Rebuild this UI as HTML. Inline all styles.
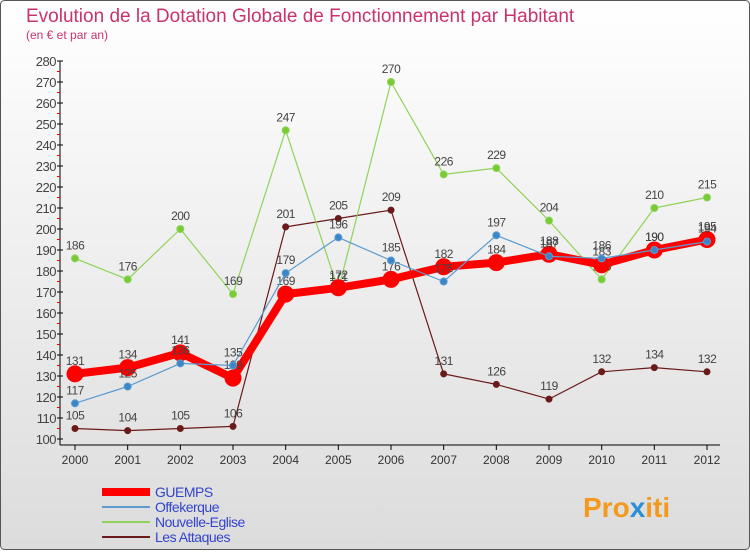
<!DOCTYPE html>
<html><head><meta charset="utf-8"><style>
body{margin:0;width:750px;height:550px;overflow:hidden;font-family:"Liberation Sans",sans-serif}
</style></head><body>
<svg id="c" width="750" height="550" xmlns="http://www.w3.org/2000/svg">
<defs><linearGradient id="bg" x1="0" y1="0" x2="0" y2="1"><stop offset="0" stop-color="#ffffff"/><stop offset="1" stop-color="#dcdcdc"/></linearGradient></defs>
<rect x="0.5" y="0.5" width="749" height="549" rx="4" fill="url(#bg)" stroke="#555"/>
<text x="26" y="22" font-size="19" fill="#c8336e">Evolution de la Dotation Globale de Fonctionnement par Habitant</text>
<text x="26" y="39" font-size="12" fill="#c8336e">(en € et par an)</text>
<g id="axes"></g><g id="series"></g><g id="legend"></g>
<text x="583" y="517" font-size="28" font-weight="bold" fill="#f39a1e">Pro<tspan fill="#2a8fd6">x</tspan>iti</text>
</svg>
<script>
const years=[2000,2001,2002,2003,2004,2005,2006,2007,2008,2009,2010,2011,2012];
const guemps=[131,134,141,129,169,172,176,182,184,188,183,190,195];
const offekerque=[117,125,136,135,179,196,185,175,197,187,186,190,194];
const nouvelle=[186,176,200,169,247,171,270,226,229,204,176,210,215];
const attaques=[105,104,105,106,201,205,209,131,126,119,132,134,132];
const yTicks=[100,110,120,130,140,150,160,170,180,190,200,210,220,230,240,250,260,270,280];
const NS='http://www.w3.org/2000/svg';
const X=i=>75+i*(707-75)/12;
const Y=v=>439-(v-100)*(439-61)/180;
function el(t,a,p){const e=document.createElementNS(NS,t);for(const k in a)e.setAttribute(k,a[k]);p.appendChild(e);return e;}
const ax=document.getElementById('axes');
let a=el('line',{x1:60,y1:61,x2:60,y2:445,stroke:'#000'},ax);


a=el('line',{x1:60,y1:445,x2:720,y2:445,stroke:'#000'},ax);


yTicks.forEach(v=>{
 el('line',{x1:57,y1:Y(v),x2:63,y2:Y(v),stroke:'#000'},ax);
 if(v<280)el('line',{x1:57,y1:Y(v+5),x2:60,y2:Y(v+5),stroke:'#e00'},ax);
 const t=el('text',{x:56,y:Y(v)+5,'font-size':13,fill:'#444','text-anchor':'end','letter-spacing':'-0.5'},ax);t.textContent=v;
 
 
});
years.forEach((y,i)=>{
 el('line',{x1:X(i),y1:445,x2:X(i),y2:450,stroke:'#000'},ax);
 const t=el('text',{x:X(i),y:464,'font-size':12,fill:'#333','text-anchor':'middle'},ax);t.textContent=y;
 
 
});
const sg=document.getElementById('series');
function series(vals,color,lw,r,fill,name){
 const g=el('g',{},sg);
 
 
 const p=el('polyline',{points:vals.map((v,i)=>X(i)+','+Y(v)).join(' '),fill:'none',stroke:color,'stroke-width':lw,'stroke-linejoin':'round'},g);
 
 
 vals.forEach((v,i)=>{
  const c=el('circle',{cx:X(i),cy:Y(v),r:r,fill:fill,stroke:color,'stroke-width':1},g);
  
  
  const t=el('text',{x:X(i),y:Y(v)-9,'font-size':12,fill:'#444','text-anchor':'middle','letter-spacing':'-0.5'},g);t.textContent=v;
  
  
 });
}
series(attaques,'#6b1a1a',1.2,3,'#6b1a1a','les-attaques');
series(nouvelle,'#8fd35a',1.2,3.5,'#77cc33','nouvelle-eglise');
series(guemps,'#ff0000',8,8,'#ff0000','guemps');
series(offekerque,'#5b9bd0',1.2,3.5,'#3a86c8','offekerque');
const lg=document.getElementById('legend');
[['GUEMPS','#ff0000',8],['Offekerque','#5b9bd0',2],['Nouvelle-Eglise','#8fd35a',2],['Les Attaques','#6b1a1a',2]].forEach((d,i)=>{
 const y=492+i*15;
 const l=el('line',{x1:102,y1:y,x2:150,y2:y,stroke:d[1],'stroke-width':d[2]},lg);
 
 
 const t=el('text',{x:155,y:y+5,'font-size':14,fill:'#3344cc','letter-spacing':'-0.5'},lg);t.textContent=d[0];
 
 
});
</script>
</body></html>
